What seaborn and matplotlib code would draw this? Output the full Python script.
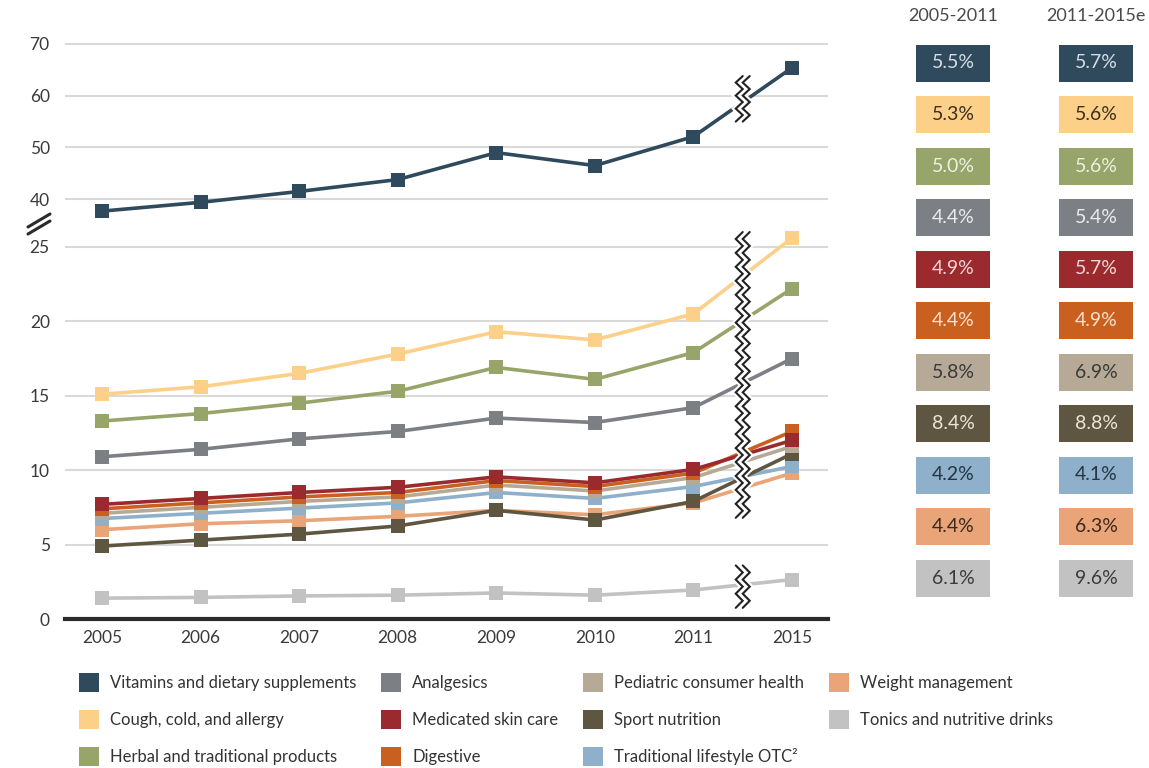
# -*- coding: utf-8 -*-
import numpy as np
import pandas as pd
import seaborn as sns
from matplotlib import pyplot as plt
from matplotlib.patches import Patch, Rectangle

sns.set_theme(style="white")
plt.rcParams['font.family'] = ['Lato', 'DejaVu Sans']

# data (USD billion)
years = ['2005', '2006', '2007', '2008', '2009', '2010', '2011', '2015']
categories = ['Vitamins and dietary supplements', 'Cough, cold, and allergy',
              'Herbal and traditional products', 'Analgesics', 'Medicated skin care',
              'Digestive', 'Pediatric consumer health', 'Sport nutrition',
              'Traditional lifestyle OTC\u00b2', 'Weight management',
              'Tonics and nutritive drinks']
vitamins = [37.7, 39.4, 41.5, 43.8, 49.0, 46.5, 52.1, 65.4]
cough = [15.1, 15.6, 16.5, 17.8, 19.3, 18.75, 20.5, 25.6]
herbal = [13.3, 13.8, 14.5, 15.3, 16.9, 16.1, 17.9, 22.2]
analgesics = [10.9, 11.4, 12.1, 12.6, 13.5, 13.2, 14.2, 17.5]
skin_care = [7.7, 8.1, 8.5, 8.85, 9.55, 9.15, 10.05, 12.0]
digestive = [7.4, 7.8, 8.2, 8.5, 9.3, 8.9, 9.8, 12.6]
pediatric = [7.1, 7.5, 7.9, 8.2, 9.0, 8.6, 9.5, 11.6]
sport = [4.9, 5.3, 5.7, 6.25, 7.3, 6.65, 7.9, 11.1]
lifestyle = [6.75, 7.1, 7.45, 7.8, 8.5, 8.1, 8.9, 10.25]
weight = [6.0, 6.4, 6.6, 6.9, 7.3, 7.0, 7.8, 9.8]
tonics = [1.4, 1.45, 1.55, 1.6, 1.75, 1.6, 1.95, 2.65]
series = [vitamins, cough, herbal, analgesics, skin_care, digestive,
          pediatric, sport, lifestyle, weight, tonics]

cagr_05_11 = ['5.5%', '5.3%', '5.0%', '4.4%', '4.9%', '4.4%', '5.8%', '8.4%', '4.2%', '4.4%', '6.1%']
cagr_11_15 = ['5.7%', '5.6%', '5.6%', '5.4%', '5.7%', '4.9%', '6.9%', '8.8%', '4.1%', '6.3%', '9.6%']

colors = ['#2f4a5c', '#fdd08a', '#97a56a', '#7c8084', '#9b2a2f', '#c9601f',
          '#b6aa97', '#5f5641', '#8fb0ca', '#e9a477', '#c2c2c2']
text_colors = ['#d5dee6', '#3d3020', '#eef0e0', '#ececec', '#f2d6d6', '#f8e2cc',
               '#3a3a3a', '#ece4d4', '#253545', '#3a2a20', '#3a3a3a']

df = pd.DataFrame({'year': np.tile(years, len(categories)),
                   'category': np.repeat(categories, len(years)),
                   'value': np.concatenate(series)})

W, H = 1149, 768
fig = plt.figure(figsize=(W / 100, H / 100), dpi=100)

# axes positions in pixels (left, top, right, bottom)
def px_axes(l, t, r, b):
    return fig.add_axes([l / W, 1 - b / H, (r - l) / W, (b - t) / H])

ax_top = px_axes(65, 30, 828, 222)
ax_bot = px_axes(65, 232, 828, 619)

grid_c = '#d9d9d9'
tick_c = '#3a3a3a'

# draw lower series first so the dark ones end up on top
for i in reversed(range(len(categories))):
    cat = categories[i]
    sub = df[df['category'] == cat]
    ax = ax_top if i == 0 else ax_bot
    sns.lineplot(data=sub, x='year', y='value', ax=ax, color=colors[i], lw=2.6,
                 marker='s', markersize=10, markeredgewidth=0, sort=False,
                 clip_on=False, zorder=5 + (len(categories) - i) * 0.1)

xlim = (-0.375, 7.365)
for ax in (ax_top, ax_bot):
    ax.set_xlim(*xlim)
    ax.set_xlabel('')
    ax.set_ylabel('')
    ax.set_facecolor('none')
    ax.yaxis.grid(True, color=grid_c, lw=1.5)
    ax.xaxis.grid(False)
    ax.set_axisbelow(True)
    for s in ax.spines.values():
        s.set_visible(False)
    ax.tick_params(axis='y', length=0, pad=11, labelsize=12.5, labelcolor=tick_c)

ax_top.set_ylim(35.6, 72.7)
ax_top.set_yticks([40, 50, 60, 70])
ax_top.tick_params(axis='x', bottom=False, labelbottom=False)

ax_bot.set_ylim(0, 26.0)
ax_bot.set_yticks([0, 5, 10, 15, 20, 25])
ax_bot.spines['bottom'].set_visible(True)
ax_bot.spines['bottom'].set_color('#2b2b2b')
ax_bot.spines['bottom'].set_linewidth(3)
ax_bot.tick_params(axis='x', length=0, pad=8, labelsize=12.5, labelcolor=tick_c)


# zigzag break marks at the gap between 2011 and 2015
def zigzag(ax, xc, y0, y1, half_px=7, amp_px=3.5, gap_px=7):
    bb = ax.get_window_extent()
    xl, yl = ax.get_xlim(), ax.get_ylim()
    sx = (xl[1] - xl[0]) / bb.width
    sy = (yl[1] - yl[0]) / bb.height
    n = max(2, int(round(abs(y1 - y0) / sy / half_px)))
    ys = np.linspace(y0, y1, n + 1)
    xs = xc + amp_px * sx * np.where(np.arange(n + 1) % 2 == 0, -1, 1)
    ax.plot(xs, ys, color='white', lw=gap_px + 1, zorder=20, clip_on=False,
            solid_joinstyle='miter')
    for off in (-gap_px / 2, gap_px / 2):
        ax.plot(xs + off * sx, ys, color='#222222', lw=1.5, zorder=21,
                clip_on=False, solid_joinstyle='miter')

zigzag(ax_top, 6.5, 55.0, 63.8)
zigzag(ax_bot, 6.5, 6.8, 26.0)
zigzag(ax_bot, 6.5, 0.75, 3.6)

# y-axis break "//"
for dy in (0, 7):
    fig.add_artist(plt.Line2D([28 / W, 50 / W], [1 - (227 + dy) / H, 1 - (214 + dy) / H],
                              color='#2b2b2b', lw=2.2))

# CAGR boxes on the right
ax_tab = fig.add_axes([0, 0, 1, 1])
ax_tab.set_xlim(0, W)
ax_tab.set_ylim(H, 0)
ax_tab.axis('off')
col_x = [916, 1059]
box_w, box_h = 74, 37
ax_tab.text(953, 16, '2005-2011', ha='center', va='center', fontsize=13, color='#4a4a4a')
ax_tab.text(1096, 16, '2011-2015e', ha='center', va='center', fontsize=13, color='#4a4a4a')
for i in range(len(categories)):
    yc = 63 + i * 51.5
    for cx, vals in zip(col_x, (cagr_05_11, cagr_11_15)):
        ax_tab.add_patch(Rectangle((cx, yc - box_h / 2), box_w, box_h,
                                   facecolor=colors[i], edgecolor='none'))
        ax_tab.text(cx + box_w / 2, yc, vals[i], ha='center', va='center',
                    fontsize=14, color=text_colors[i])

# legend
handles = [Patch(facecolor=c, edgecolor='none') for c in colors]
fig.legend(handles, categories, ncol=4, loc='upper left',
           bbox_to_anchor=(64 / W, 1 - 658 / H), frameon=False,
           fontsize=12, handlelength=1.2, handleheight=1.4, handletextpad=0.65,
           columnspacing=1.5, labelspacing=1.05, labelcolor='#333333')

plt.savefig('out.png', dpi=100)
